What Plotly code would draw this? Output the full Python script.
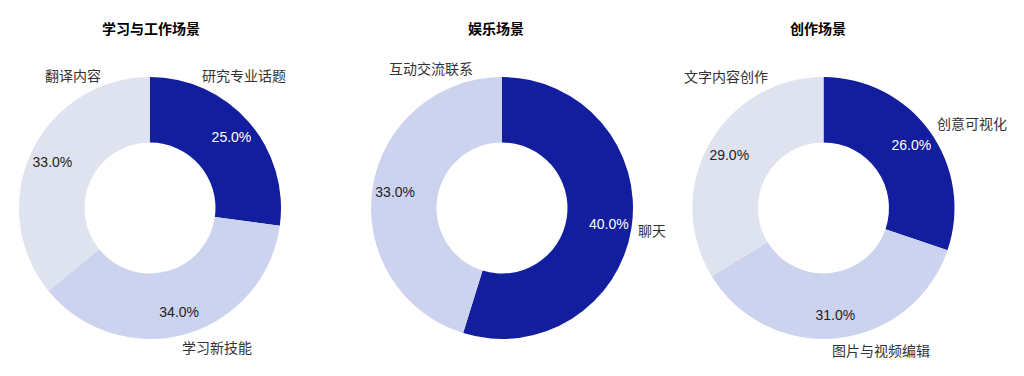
import plotly.graph_objects as go

# ---- data ----
titles = ["学习与工作场景", "娱乐场景", "创作场景"]
study_labels = ["研究专业话题", "学习新技能", "翻译内容"]
study_values = [25.0, 34.0, 33.0]
fun_labels = ["聊天", "互动交流联系"]
fun_values = [40.0, 33.0]
create_labels = ["创意可视化", "图片与视频编辑", "文字内容创作"]
create_values = [26.0, 31.0, 29.0]

DARK = "#121E9D"
MID = "#CCD3EE"
LIGHT = "#DFE3EF"
FONT = "Liberation Sans, Arial, Noto Sans CJK SC, sans-serif"
CJK = "Noto Sans CJK SC, sans-serif"

W, H = 1024, 376

def px_dom(cx, cy, r):
    return dict(x=[(cx - r) / W, (cx + r) / W],
                y=[1 - (cy + r) / H, 1 - (cy - r) / H])

charts = [
    (study_labels, study_values, [DARK, MID, LIGHT], px_dom(150, 208, 131)),
    (fun_labels, fun_values, [DARK, MID], px_dom(502, 208, 131)),
    (create_labels, create_values, [DARK, MID, LIGHT], px_dom(823.5, 208, 131)),
]

fig = go.Figure()
for labels, values, colors, dom in charts:
    fig.add_trace(go.Pie(
        labels=labels, values=values, hole=0.5, sort=False,
        direction="clockwise", rotation=0, domain=dom,
        marker=dict(colors=colors, line=dict(width=0)),
        textinfo="none", showlegend=False, hoverinfo="label+value",
    ))
for labels, values, colors, dom in charts:
    txtcol = ["#ffffff"] + ["#222222"] * (len(values) - 1)
    fig.add_trace(go.Pie(
        labels=labels, values=values, hole=0.65, sort=False,
        direction="clockwise", rotation=0, domain=dom,
        marker=dict(colors=["rgba(0,0,0,0)"] * len(values), line=dict(width=0)),
        texttemplate="%{value:.1f}%", textposition="inside",
        insidetextorientation="horizontal",
        textfont=dict(family=FONT, size=14, color=txtcol),
        showlegend=False, hoverinfo="skip",
    ))

title_pos = [(151, 28), (496, 28), (818, 28)]
name_pos = [
    [(244, 75), (217, 347), (73, 75)],
    [(652, 230), (431, 68)],
    [(972, 123), (881, 350), (726, 76)],
]
all_labels = [study_labels, fun_labels, create_labels]

ann = []
for t, (x, y) in zip(titles, title_pos):
    ann.append(dict(text="<b>%s</b>" % t, x=x / W, y=1 - y / H, xref="paper", yref="paper",
                    showarrow=False, xanchor="center", yanchor="middle",
                    font=dict(family=CJK, size=14, color="#000000")))
for labs, poss in zip(all_labels, name_pos):
    for lab, (x, y) in zip(labs, poss):
        ann.append(dict(text=lab, x=x / W, y=1 - y / H, xref="paper", yref="paper",
                        showarrow=False, xanchor="center", yanchor="middle",
                        font=dict(family=CJK, size=14, color="#333333")))

fig.update_layout(
    width=W, height=H, margin=dict(l=0, r=0, t=0, b=0),
    paper_bgcolor="white", plot_bgcolor="white",
    annotations=ann,
)
fig.write_html("out.html")
